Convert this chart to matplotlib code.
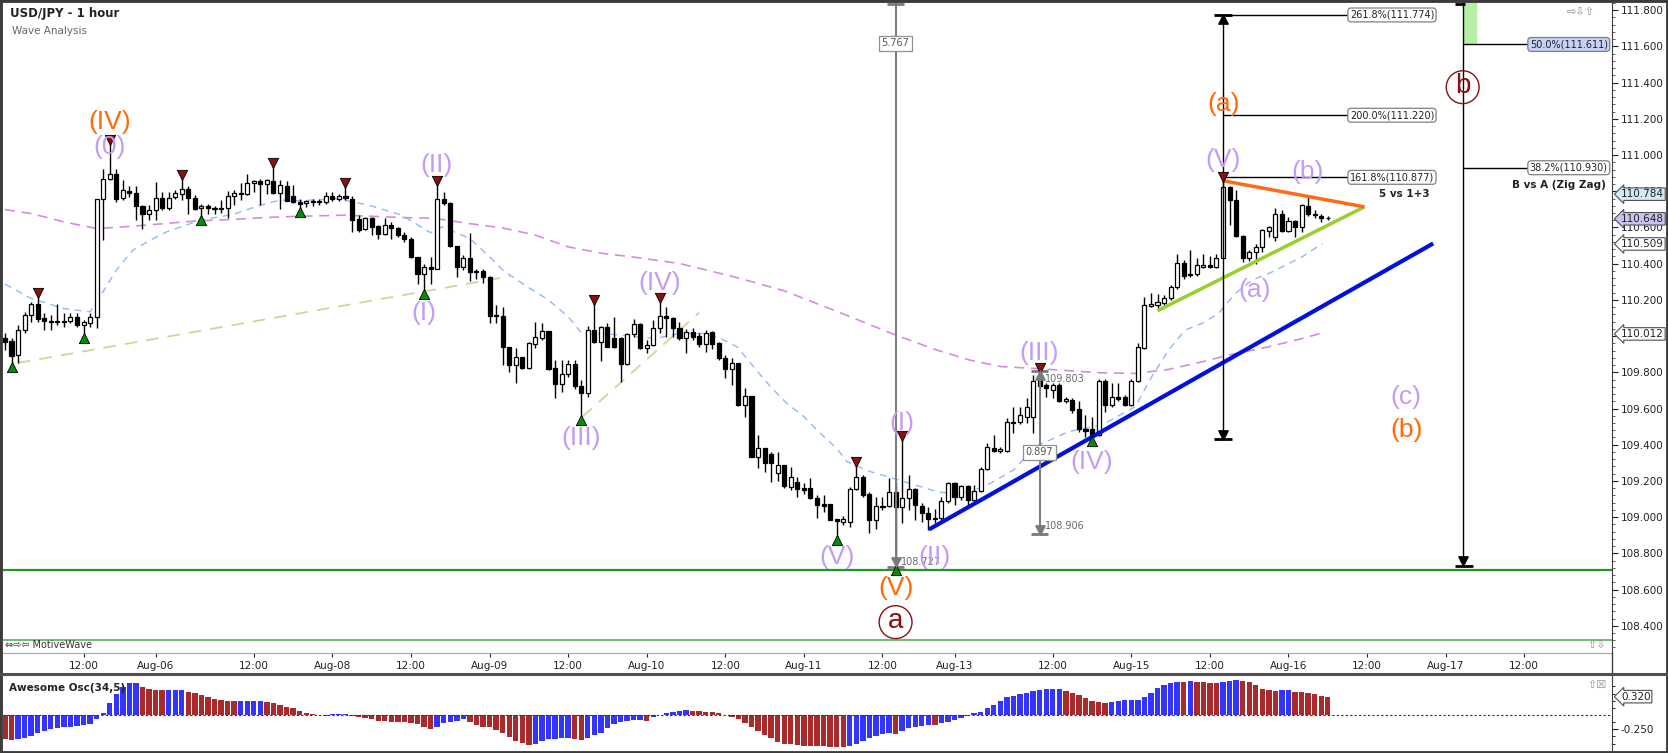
import numpy as np
import matplotlib.pyplot as plt
from matplotlib.patches import Rectangle
from matplotlib.lines import Line2D
from matplotlib.transforms import blended_transform_factory

# ---- data: one candle per hour, bar 0 = Aug-04 12:00 ----
first_bar = -12
opens = [
    109.987, 109.974, 109.895, 110.036, 110.116, 110.176, 110.101, 110.084, 110.077, 110.084, 110.082, 110.103,
    110.062, 110.073, 110.103, 110.756, 110.866, 110.894, 110.763, 110.804, 110.791, 110.717,
    110.677, 110.695, 110.765, 110.710, 110.769, 110.787, 110.815, 110.765, 110.708, 110.719,
    110.708, 110.703, 110.710, 110.774, 110.787, 110.787, 110.843, 110.857, 110.839, 110.857,
    110.791, 110.830, 110.773, 110.741, 110.736, 110.739, 110.745, 110.741, 110.773, 110.758,
    110.773, 110.760, 110.646, 110.589, 110.654, 110.608, 110.563, 110.611, 110.595, 110.558,
    110.539, 110.435, 110.343, 110.379, 110.368, 110.760, 110.736, 110.497, 110.383, 110.433,
    110.352, 110.359, 110.328, 110.112, 110.112, 109.941, 109.842, 109.882, 109.822, 109.956,
    109.991, 110.028, 109.822, 109.733, 109.789, 109.844, 109.726, 109.687, 110.033, 109.969,
    110.052, 109.991, 109.991, 109.846, 110.009, 110.065, 109.932, 109.950, 110.043, 110.111,
    110.098, 110.042, 109.987, 110.024, 110.000, 109.956, 110.024, 109.963, 109.877, 109.821,
    109.849, 109.619, 109.669, 109.334, 109.380, 109.347, 109.245, 109.288, 109.168, 109.196,
    109.161, 109.161, 109.104, 109.071, 109.071, 108.988, 108.975, 108.971, 109.155, 109.223,
    109.128, 108.984, 109.063, 109.063, 109.140, 109.058, 109.104, 109.153, 109.061, 109.021,
    108.990, 108.993, 109.091, 109.190, 109.113, 109.172, 109.094, 109.146, 109.264, 109.383,
    109.367, 109.367, 109.527, 109.527, 109.555, 109.551, 109.775, 109.729, 109.705, 109.729,
    109.643, 109.647, 109.595, 109.485, 109.485, 109.453, 109.753, 109.619, 109.661, 109.665,
    109.619, 109.753, 109.937, 110.169, 110.171, 110.184, 110.208, 110.269, 110.405, 110.342,
    110.342, 110.383, 110.390, 110.383, 110.434, 110.821, 110.751, 110.552, 110.434, 110.466,
    110.493, 110.582, 110.548, 110.674, 110.582, 110.637, 110.600, 110.718, 110.677, 110.663, 110.655]
highs = [
    110.018, 109.992, 110.060, 110.134, 110.189, 110.217, 110.125, 110.116, 110.180, 110.128, 110.128, 110.125,
    110.088, 110.128, 110.756, 110.925, 111.063, 110.925, 110.865, 110.828, 110.828, 110.723,
    110.723, 110.852, 110.797, 110.797, 110.806, 110.870, 110.828, 110.778, 110.728, 110.728,
    110.717, 110.751, 110.800, 110.806, 110.846, 110.894, 110.865, 110.870, 110.870, 110.938,
    110.861, 110.857, 110.833, 110.760, 110.754, 110.760, 110.760, 110.797, 110.797, 110.787,
    110.825, 110.773, 110.668, 110.659, 110.659, 110.613, 110.650, 110.632, 110.604, 110.576,
    110.545, 110.435, 110.401, 110.435, 110.834, 110.797, 110.742, 110.497, 110.447, 110.571,
    110.368, 110.368, 110.332, 110.171, 110.162, 109.941, 109.932, 109.886, 109.969, 110.079,
    110.070, 110.028, 109.868, 109.868, 109.868, 109.868, 109.757, 110.057, 110.181, 110.055,
    110.074, 110.107, 109.996, 110.015, 110.092, 110.070, 109.978, 110.089, 110.190, 110.162,
    110.107, 110.079, 110.037, 110.042, 110.018, 110.033, 110.029, 109.969, 109.895, 109.877,
    109.849, 109.711, 109.669, 109.453, 109.380, 109.361, 109.361, 109.288, 109.278, 109.223,
    109.187, 109.214, 109.122, 109.122, 109.071, 108.988, 109.006, 109.168, 109.282, 109.232,
    109.140, 109.113, 109.109, 109.214, 109.196, 109.426, 109.232, 109.159, 109.080, 109.058,
    109.043, 109.113, 109.196, 109.196, 109.177, 109.177, 109.177, 109.275, 109.407, 109.453,
    109.389, 109.545, 109.606, 109.610, 109.656, 109.785, 109.803, 109.739, 109.739, 109.739,
    109.661, 109.656, 109.643, 109.564, 109.555, 109.761, 109.761, 109.739, 109.739, 109.674,
    109.761, 109.963, 110.217, 110.239, 110.232, 110.226, 110.282, 110.456, 110.420, 110.478,
    110.429, 110.453, 110.442, 110.453, 110.858, 110.828, 110.806, 110.558, 110.478, 110.508,
    110.594, 110.607, 110.710, 110.696, 110.659, 110.640, 110.732, 110.773, 110.696, 110.677, 110.663]
lows = [
    109.922, 109.849, 109.852, 110.018, 110.079, 110.079, 110.036, 110.036, 110.060, 110.051, 110.073, 110.051,
    110.011, 110.051, 110.042, 110.530, 110.861, 110.741, 110.751, 110.769, 110.644, 110.589,
    110.640, 110.644, 110.699, 110.695, 110.760, 110.751, 110.677, 110.695, 110.659, 110.677,
    110.677, 110.681, 110.655, 110.723, 110.751, 110.778, 110.797, 110.723, 110.787, 110.787,
    110.704, 110.747, 110.736, 110.704, 110.714, 110.717, 110.723, 110.728, 110.747, 110.747,
    110.751, 110.576, 110.576, 110.585, 110.558, 110.539, 110.558, 110.534, 110.545, 110.521,
    110.429, 110.287, 110.254, 110.287, 110.368, 110.724, 110.490, 110.324, 110.365, 110.306,
    110.313, 110.291, 110.070, 110.070, 109.840, 109.801, 109.743, 109.816, 109.816, 109.932,
    109.978, 109.812, 109.656, 109.693, 109.776, 109.706, 109.555, 109.665, 109.963, 109.862,
    109.941, 109.936, 109.748, 109.840, 109.996, 109.927, 109.904, 109.947, 110.015, 109.996,
    109.996, 109.978, 109.904, 109.978, 109.941, 109.913, 109.926, 109.867, 109.766, 109.729,
    109.613, 109.555, 109.334, 109.269, 109.251, 109.196, 109.201, 109.159, 109.150, 109.113,
    109.128, 109.098, 108.993, 109.030, 108.984, 108.892, 108.956, 108.944, 109.150, 109.113,
    108.914, 108.932, 109.039, 109.058, 108.727, 108.966, 109.039, 108.984, 108.975, 108.929,
    108.966, 108.984, 109.076, 109.067, 109.094, 109.061, 109.085, 109.140, 109.260, 109.361,
    109.352, 109.361, 109.462, 109.514, 109.521, 109.466, 109.716, 109.665, 109.656, 109.637,
    109.628, 109.573, 109.472, 109.444, 109.440, 109.448, 109.582, 109.610, 109.643, 109.613,
    109.613, 109.748, 109.930, 110.162, 110.153, 110.171, 110.199, 110.258, 110.318, 110.328,
    110.331, 110.374, 110.374, 110.374, 110.429, 110.613, 110.545, 110.410, 110.416, 110.398,
    110.466, 110.545, 110.526, 110.576, 110.576, 110.545, 110.576, 110.663, 110.650, 110.631, 110.644]
closes = [
    109.968, 109.889, 110.036, 110.116, 110.176, 110.097, 110.084, 110.077, 110.084, 110.077, 110.103, 110.062,
    110.077, 110.103, 110.756, 110.866, 110.894, 110.760, 110.806, 110.791, 110.717, 110.677,
    110.695, 110.765, 110.710, 110.765, 110.793, 110.815, 110.765, 110.704, 110.719, 110.710,
    110.703, 110.708, 110.774, 110.793, 110.793, 110.846, 110.857, 110.839, 110.861, 110.791,
    110.833, 110.747, 110.741, 110.732, 110.745, 110.745, 110.739, 110.773, 110.758, 110.773,
    110.762, 110.644, 110.585, 110.650, 110.604, 110.563, 110.611, 110.595, 110.558, 110.536,
    110.435, 110.343, 110.379, 110.368, 110.760, 110.733, 110.497, 110.383, 110.429, 110.352,
    110.359, 110.328, 110.112, 110.116, 109.938, 109.842, 109.886, 109.822, 109.960, 109.993,
    110.028, 109.818, 109.733, 109.789, 109.844, 109.726, 109.687, 110.033, 109.969, 110.052,
    109.941, 109.941, 109.846, 110.009, 110.065, 109.932, 109.950, 110.043, 110.111, 110.098,
    110.043, 109.987, 110.024, 109.996, 109.956, 110.018, 109.959, 109.877, 109.821, 109.849,
    109.619, 109.669, 109.334, 109.380, 109.297, 109.297, 109.288, 109.172, 109.220, 109.153,
    109.150, 109.104, 109.067, 109.061, 108.984, 108.980, 108.988, 109.155, 109.223, 109.122,
    108.984, 109.063, 109.058, 109.140, 109.058, 109.104, 109.153, 109.067, 109.021, 108.988,
    108.997, 109.091, 109.190, 109.113, 109.172, 109.094, 109.146, 109.264, 109.385, 109.367,
    109.378, 109.527, 109.521, 109.564, 109.610, 109.752, 109.724, 109.716, 109.729, 109.643,
    109.650, 109.591, 109.485, 109.477, 109.448, 109.753, 109.619, 109.661, 109.654, 109.619,
    109.753, 109.941, 110.171, 110.177, 110.190, 110.208, 110.269, 110.405, 110.331, 110.335,
    110.392, 110.390, 110.383, 110.434, 110.821, 110.751, 110.552, 110.434, 110.466, 110.493,
    110.585, 110.600, 110.674, 110.582, 110.637, 110.600, 110.723, 110.674, 110.668, 110.655, 110.650]

# Awesome Oscillator (34,5), same bars
ao_values = [
    -0.425, -0.436, -0.413, -0.396, -0.366, -0.308, -0.273, -0.250, -0.221, -0.215, -0.204, -0.192,
    -0.180, -0.163, -0.076, 0.041, 0.204, 0.366, 0.494, 0.564, 0.566, 0.483,
    0.454, 0.436, 0.428, 0.430, 0.432, 0.433, 0.407, 0.378, 0.349, 0.308,
    0.279, 0.262, 0.244, 0.239, 0.240, 0.242, 0.244, 0.246, 0.227, 0.204,
    0.175, 0.145, 0.116, 0.076, 0.041, 0.012, -0.006, -0.012, 0.017, 0.020,
    0.023, -0.012, -0.029, -0.052, -0.076, -0.099, -0.111, -0.116, -0.122, -0.125,
    -0.134, -0.157, -0.204, -0.239, -0.215, -0.145, -0.116, -0.099, -0.076, -0.116,
    -0.180, -0.204, -0.215, -0.262, -0.320, -0.390, -0.448, -0.494, -0.524, -0.506,
    -0.448, -0.425, -0.413, -0.410, -0.408, -0.425, -0.428, -0.407, -0.355, -0.308,
    -0.221, -0.157, -0.122, -0.099, -0.093, -0.087, -0.099, -0.029, 0.006, 0.029,
    0.058, 0.076, 0.087, 0.070, 0.064, 0.058, 0.052, 0.029, -0.003, -0.029,
    -0.076, -0.134, -0.204, -0.273, -0.349, -0.407, -0.465, -0.506, -0.512, -0.524,
    -0.535, -0.541, -0.544, -0.547, -0.550, -0.553, -0.564, -0.541, -0.506, -0.448,
    -0.407, -0.366, -0.337, -0.320, -0.325, -0.279, -0.233, -0.204, -0.192, -0.175,
    -0.178, -0.145, -0.116, -0.087, -0.058, -0.012, 0.041, 0.058, 0.116, 0.175,
    0.250, 0.308, 0.332, 0.366, 0.390, 0.419, 0.436, 0.448, 0.452, 0.455,
    0.425, 0.390, 0.349, 0.302, 0.250, 0.233, 0.215, 0.233, 0.250, 0.262,
    0.265, 0.268, 0.320, 0.390, 0.465, 0.524, 0.564, 0.582, 0.578, 0.585,
    0.580, 0.570, 0.564, 0.553, 0.570, 0.593, 0.611, 0.593, 0.582, 0.524,
    0.454, 0.436, 0.425, 0.428, 0.432, 0.407, 0.396, 0.378, 0.361, 0.337, 0.320]

# moving averages (bar index, price)
ma_fast_bar = [-12, -8, -3, 1, 2.5, 5, 7.5, 10.2, 12.7, 17.8, 22.9, 27, 30, 33, 38.4, 43.5, 48.6, 53, 54.8,
               59, 62, 64, 67, 71, 74, 76.3, 79.2, 84.3, 87.4, 91, 94.7, 97.3, 99.8, 102.3, 104.9, 107.4,
               110, 112.5, 115, 116.6, 120.2, 125.3, 130.4, 133, 135.4, 138.5, 142, 145.3, 150.4, 155.5,
               160.6, 163.1, 165.7, 168.2, 170.8, 173.3, 175.9, 178.4, 181, 186.1, 189.2]
ma_fast_val = [110.287, 110.208, 110.152, 110.134, 110.217, 110.364, 110.474, 110.530, 110.576, 110.640,
               110.673, 110.723, 110.751, 110.747, 110.760, 110.724, 110.668, 110.571, 110.604, 110.539,
               110.438, 110.365, 110.291, 110.199, 110.107, 110.006, 110.015, 109.996, 109.987, 110.015,
               110.015, 109.987, 109.941, 109.831, 109.720, 109.628, 109.555, 109.463, 109.380, 109.306,
               109.251, 109.196, 109.140, 109.128, 109.140, 109.187, 109.260, 109.389, 109.472, 109.509,
               109.610, 109.775, 109.923, 110.033, 110.070, 110.125, 110.236, 110.309, 110.346, 110.438,
               110.512]
ma_slow_bar = [-12, -8, -3, 2, 7.5, 12.5, 17.6, 22.7, 27.8, 33, 40, 48.6, 53.7, 58.8, 63.9, 69, 74, 79.2,
               84.3, 91, 99.4, 107, 115.5, 124, 130.3, 135.4, 140, 145.3, 150.4, 155.5, 160.6, 165.7,
               170.8, 175.9, 181, 186.1, 189.2]
ma_slow_val = [110.699, 110.677, 110.631, 110.594, 110.607, 110.622, 110.637, 110.644, 110.655, 110.662,
               110.668, 110.655, 110.650, 110.622, 110.598, 110.558, 110.493, 110.457, 110.435, 110.401,
               110.327, 110.250, 110.130, 110.006, 109.923, 109.867, 109.832, 109.821, 109.809, 109.797,
               109.794, 109.816, 109.858, 109.904, 109.941, 109.987, 110.018]

swing_highs = [-7, 4, 15, 29, 40, 54, 78, 88, 118, 125, 146, 174]
swing_lows = [-11, 0, 18, 33, 52, 76, 115, 124, 154]

# drawn lines: (bars, prices)
tan_lines = [([-10, 65.4], [109.852, 110.332]), ([76.2, 94], [109.555, 110.130])]
blue_trend = ([129.1, 206.1], [108.932, 110.512])
green_trend = ([164, 195.6], [110.140, 110.714])
orange_trend = ([174, 195.6], [110.858, 110.714])
support_levels = [108.708, 108.321]

fib_ext = [('261.8%', 111.774), ('200.0%', 111.220), ('161.8%', 110.877)]
fib_ret = [('50.0%', 111.611), ('38.2%', 110.930)]

PURPLE = '#c39cf5'
ORANGE = '#ff6a0a'
DARKRED = '#8b1010'
wave_labels = [
    ('(IV)', 4, 111.180, ORANGE), ('(0)', 4, 111.045, PURPLE), ('(II)', 53.9, 110.944, PURPLE),
    ('(I)', 52, 110.127, PURPLE), ('(III)', 76, 109.435, PURPLE), ('(IV)', 88, 110.291, PURPLE),
    ('(V)', 115, 108.781, PURPLE), ('(I)', 125, 109.518, PURPLE), ('(II)', 129.9, 108.781, PURPLE),
    ('(V)', 124, 108.607, ORANGE), ('(III)', 145.9, 109.904, PURPLE), ('(IV)', 153.9, 109.306, PURPLE),
    ('(V)', 174, 110.972, PURPLE), ('(a)', 174.1, 111.281, ORANGE), ('(b)', 186.9, 110.907, PURPLE),
    ('(a)', 178.8, 110.254, PURPLE), ('(c)', 201.9, 109.665, PURPLE), ('(b)', 202.1, 109.481, ORANGE)]
circle_labels = [('a', 124, 108.420), ('b', 210.6, 111.375)]

tick_bars = [0, 11, 26, 38, 50, 62, 74, 86, 98, 110, 122, 133, 148, 160, 172, 184, 196, 208, 220]
tick_text = ['12:00', 'Aug-06', '12:00', 'Aug-08', '12:00', 'Aug-09', '12:00', 'Aug-10', '12:00', 'Aug-11',
             '12:00', 'Aug-13', '12:00', 'Aug-15', '12:00', 'Aug-16', '12:00', 'Aug-17', '12:00']
axis_tags = [(110.784, '#d2e8f6'), (110.648, '#c9c3f2'), (110.509, 'white'), (110.012, 'white')]

# ---- layout in pixels ----
W, H = 1668, 753
fig = plt.figure(figsize=(W / 100, H / 100), dpi=100)
fig.patch.set_facecolor('white')


def fx(px):
    return px / W


def fy(py):
    return 1 - py / H


ax = fig.add_axes([fx(3), fy(653), fx(1612) - fx(3), fy(3) - fy(653)])
ao = fig.add_axes([fx(3), fy(750), fx(1612) - fx(3), fy(675) - fy(750)])
XMIN, XMAX = -12.3, 233.4
ax.set_xlim(XMIN, XMAX)
ax.set_ylim(108.2495, 111.8387)
ao.set_xlim(XMIN, XMAX)
ao.set_ylim(-0.611, 0.698)

LBL = 'Liberation Sans'

# candles
n = min(len(opens), len(highs), len(lows), len(closes))
o, h, l, c = (np.array(a[:n]) for a in (opens, highs, lows, closes))
bars = np.arange(first_bar, first_bar + n)
up = c >= o
ax.vlines(bars, l, h, color='black', lw=1, zorder=3)
lo = np.minimum(o, c)
ht = np.maximum(np.abs(c - o), 0.004)
ax.bar(bars[up], ht[up], bottom=lo[up], width=0.62, color='white', edgecolor='black', lw=0.9, zorder=4)
ax.bar(bars[~up], ht[~up], bottom=lo[~up], width=0.62, color='black', edgecolor='black', lw=0.9, zorder=4)

# moving averages
ax.plot(ma_fast_bar, ma_fast_val, color='#93b8f6', lw=1, dashes=(5, 4), zorder=2)
ax.plot(ma_slow_bar, ma_slow_val, color='#d18fda', lw=1.2, dashes=(6, 4), zorder=2)

# swing markers
hi_of = dict(zip(bars, h))
lo_of = dict(zip(bars, l))
ax.scatter(swing_highs, [hi_of[b] + 0.02 for b in swing_highs], marker='v', s=55,
           color=DARKRED, edgecolor='black', lw=0.6, zorder=6)
ax.scatter(swing_lows, [lo_of[b] - 0.02 for b in swing_lows], marker='^', s=55,
           color='#0a8a0a', edgecolor='black', lw=0.6, zorder=6)

# trend lines
for xs, ys in tan_lines:
    ax.plot(xs, ys, color='#d6d29c', lw=1.3, dashes=(7, 5), zorder=2)
ax.plot(*blue_trend, color='#0010e0', lw=3, zorder=5, solid_capstyle='butt')
ax.plot(*green_trend, color='#9acd32', lw=2.5, zorder=5, solid_capstyle='butt')
ax.plot(*orange_trend, color='#ff6a1a', lw=2.5, zorder=5, solid_capstyle='butt')
ax.axhline(support_levels[0], color='#1f9a1f', lw=1.6, zorder=2)
ax.axhline(support_levels[1], color='#58b058', lw=1.2, zorder=2)

# measuring tools
GRAY = '#7a7a7a'
ax.vlines(124, 108.727, 111.95, color=GRAY, lw=1.4, zorder=5)
ax.hlines([111.834, 108.727], 122.7, 125.3, color=GRAY, lw=2, zorder=5)
ax.scatter([124], [108.752], marker='v', s=45, color=GRAY, zorder=6)
ax.text(124, 111.617, '5.767', fontsize=7, color='#555555', ha='center', va='center', zorder=7,
        bbox=dict(boxstyle='square,pad=0.25', fc='white', ec='#909090', lw=0.9))
ax.text(124.8, 108.752, '108.727', fontsize=7, color='#6a6a6a', ha='left', va='center', zorder=7)

ax.vlines(146, 108.906, 109.808, color=GRAY, lw=1.4, zorder=5)
ax.hlines([109.808, 108.906], 144.7, 147.3, color=GRAY, lw=2, zorder=5)
ax.scatter([146], [109.785], marker='^', s=45, color=GRAY, zorder=6)
ax.scatter([146], [108.930], marker='v', s=45, color=GRAY, zorder=6)
ax.text(146, 109.359, '0.897', fontsize=7, color='#555555', ha='center', va='center', zorder=7,
        bbox=dict(boxstyle='square,pad=0.25', fc='white', ec='#909090', lw=0.9))
ax.text(146.8, 109.763, '109.803', fontsize=7, color='#6a6a6a', ha='left', va='center', zorder=7)
ax.text(146.8, 108.952, '108.906', fontsize=7, color='#6a6a6a', ha='left', va='center', zorder=7)

ax.vlines(174, 109.430, 111.774, color='black', lw=1, zorder=5)
ax.hlines([111.774, 109.430], 172.7, 175.3, color='black', lw=2, zorder=5)
ax.scatter([174], [111.750], marker='^', s=45, color='black', zorder=6)
ax.scatter([174], [109.455], marker='v', s=45, color='black', zorder=6)
for name, lvl in fib_ext:
    ax.hlines(lvl, 174, 193.8, color='black', lw=1, zorder=5)
    ax.text(199.8, lvl, f'{name}({lvl:.3f})', fontsize=7, color='#222222', ha='center', va='center', zorder=7,
            bbox=dict(boxstyle='round,pad=0.2,rounding_size=0.35', fc='white', ec='#808080', lw=0.9))
ax.text(205.6, 110.785, '5 vs 1+3', fontsize=7.5, fontweight='bold', color='#222222', ha='right', va='center')

ax.add_patch(Rectangle((210.8, 111.611), 1.9, 0.3, color='#b7efa6', zorder=3))
ax.vlines(210.7, 108.730, 111.95, color='black', lw=1, zorder=5)
ax.hlines([111.834, 108.730], [209.4, 209.4], [211.0, 212.1], color='black', lw=2, zorder=5)
ax.scatter([210.7], [108.755], marker='v', s=45, color='black', zorder=6)
for (name, lvl), fc in zip(fib_ret, ['#c8d0f6', 'white']):
    ax.hlines(lvl, 210.7, 221.2, color='black', lw=1, zorder=5)
    ax.text(226.8, lvl, f'{name}({lvl:.3f})', fontsize=7, color='#222222', ha='center', va='center', zorder=7,
            bbox=dict(boxstyle='round,pad=0.2,rounding_size=0.35', fc=fc, ec='#808080', lw=0.9))
ax.text(232.4, 110.837, 'B vs A (Zig Zag)', fontsize=7.5, fontweight='bold', color='#222222',
        ha='right', va='center')

# wave labels
for txt, xb, yp, col in wave_labels:
    ax.text(xb, yp, txt, fontsize=19, family=LBL, color=col, ha='center', va='center', zorder=8)
for txt, xb, yp in circle_labels:
    ax.scatter([xb], [yp], s=560, facecolor='none', edgecolor=DARKRED, lw=1, zorder=8)
    ax.text(xb, yp + 0.005, txt, fontsize=20, family=LBL, color=DARKRED, ha='center', va='center', zorder=8)

# axes styling - main
ax.set_xticks(tick_bars)
ax.set_xticklabels(tick_text)
ax.yaxis.tick_right()
ax.set_yticks(np.round(np.arange(108.4, 111.81, 0.2), 3))
ax.set_yticklabels([f'{v:.3f}' for v in np.arange(108.4, 111.81, 0.2)])
ax.set_yticks(np.round(np.arange(108.28, 111.84, 0.04), 3), minor=True)
ax.tick_params(axis='y', which='major', length=4, width=0.8, pad=2, labelsize=7.5, colors='#222222')
ax.tick_params(axis='y', which='minor', length=2, width=0.6, colors='#444444')
ax.tick_params(axis='x', length=3, width=0.8, pad=2.5, labelsize=7.5, colors='#222222')
for s in ['top', 'left']:
    ax.spines[s].set_visible(False)
ax.spines['right'].set_color('#404040')
ax.spines['bottom'].set_color('#a8a8a8')

tr = blended_transform_factory(ax.transAxes, ax.transData)
for val, fc in axis_tags:
    ax.text(1 + 9 / 1609, val, f'{val:.3f}', transform=tr, fontsize=7.5, color='#222222', ha='left',
            va='center', zorder=9, clip_on=False,
            bbox=dict(boxstyle='larrow,pad=0.12', fc=fc, ec='#505050', lw=0.8))

# AO panel
ao_v = np.array(ao_values[:n])
ao_col = ['#a82a2a'] + ['#3434ff' if ao_v[i] >= ao_v[i - 1] else '#a82a2a' for i in range(1, len(ao_v))]
ao.bar(bars, ao_v, width=0.82, color=ao_col, zorder=3)
ao.axhline(0, color='#303030', lw=0.8, dashes=(2, 2), zorder=4)
ao.yaxis.tick_right()
ao.set_yticks([-0.25])
ao.set_yticklabels(['-0.250'])
ao.set_yticks([-0.5, -0.375, -0.125, 0.125, 0.25, 0.375, 0.5], minor=True)
ao.tick_params(axis='y', which='major', length=4, width=0.8, pad=2, labelsize=7.5, colors='#222222')
ao.tick_params(axis='y', which='minor', length=2, width=0.6)
ao.set_xticks([])
for s in ['top', 'left', 'bottom']:
    ao.spines[s].set_visible(False)
ao.spines['right'].set_color('#404040')
tr2 = blended_transform_factory(ao.transAxes, ao.transData)
ao.text(1 + 9 / 1609, ao_v[-1], f'{ao_v[-1]:.3f}', transform=tr2, fontsize=7.5, color='#222222', ha='left',
        va='center', zorder=9, clip_on=False,
        bbox=dict(boxstyle='larrow,pad=0.12', fc='white', ec='#505050', lw=0.8))

# frame, separators, captions
fig.add_artist(Line2D([fx(1612), fx(1612)], [fy(653), fy(673)], color='#404040', lw=1))
fig.add_artist(Line2D([0, 1], [fy(674), fy(674)], color='#505050', lw=2.2))
fig.add_artist(Rectangle((0, 0), 1, 1, transform=fig.transFigure, fill=False, ec='#3c3c3c', lw=3.5))

fig.text(fx(10), fy(14), 'USD/JPY - 1 hour', fontsize=8.5, fontweight='bold', color='#222222', va='center')
fig.text(fx(12), fy(31), 'Wave Analysis', fontsize=7.5, color='#666666', va='center')
fig.text(fx(5), fy(645), '⇔⇨⇦ MotiveWave', fontsize=7, color='#333333', va='center')
fig.text(fx(9), fy(688), 'Awesome Osc(34,5)', fontsize=7.5, fontweight='bold', color='#222222', va='center')
fig.text(fx(1567), fy(12), '⇨⇩⇧', fontsize=8, color='#909090', va='center')
fig.text(fx(1587), fy(645), '⇧⇩', fontsize=8, color='#909090', va='center')
fig.text(fx(1587), fy(685), '⇧☒', fontsize=8, color='#909090', va='center')

fig.savefig('out.png', dpi=100)
